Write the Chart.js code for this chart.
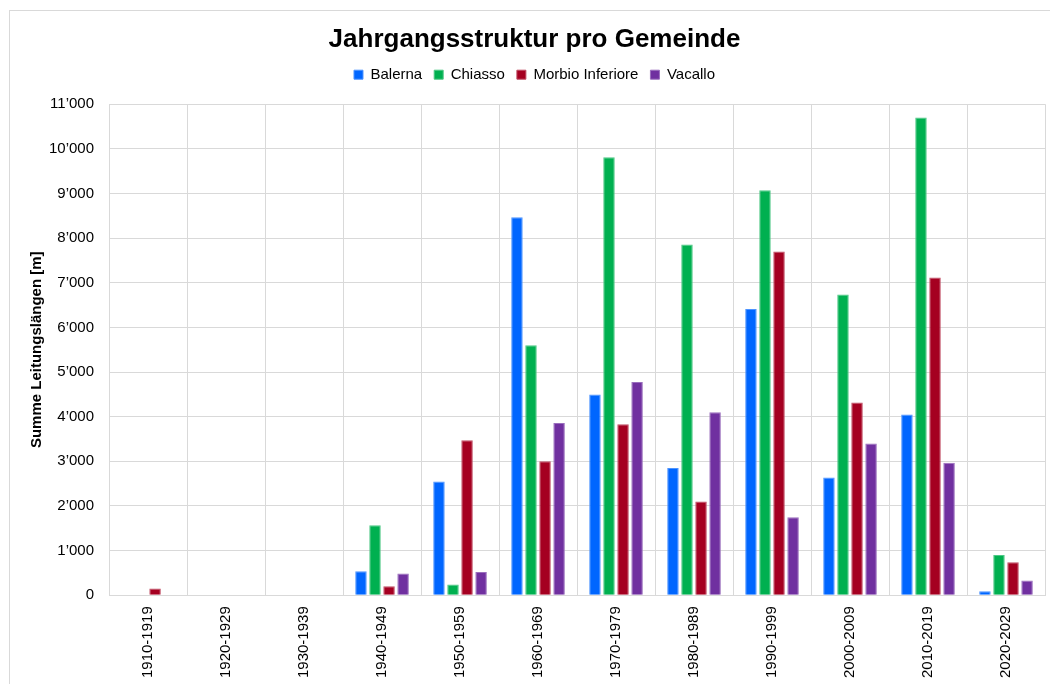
<!DOCTYPE html>
<html>
<head>
<meta charset="utf-8">
<script src="https://cdn.jsdelivr.net/npm/chart.js@4/dist/chart.umd.min.js"></script>
<style>
  html, body { margin: 0; padding: 0; background: #fff; }
  #frame {
    position: absolute; left: 9px; top: 10px; width: 1050px; height: 684px;
    border-left: 1px solid #d9d9d9; border-top: 1px solid #d9d9d9;
  }
  #wrap { position: absolute; left: 0; top: 0; width: 1050px; height: 684px; }
</style>
</head>
<body>
<div id="frame"></div>
<div id="wrap"><canvas id="c"></canvas></div>
<script>
// Jahrgangsstruktur – Summe Leitungslängen je Jahrzehnt
const DECADES = ['1910-1919', '1920-1929', '1930-1939', '1940-1949', '1950-1959', '1960-1969',
                 '1970-1979', '1980-1989', '1990-1999', '2000-2009', '2010-2019', '2020-2029'];

const BALERNA = [0, 0, 0, 540, 2550, 8470, 4500, 2850, 6410, 2640, 4050, 90];
const CHIASSO = [0, 0, 0, 1570, 240, 5600, 9810, 7860, 9070, 6740, 10700, 900];
const MORBIO  = [150, 0, 0, 200, 3470, 3000, 3830, 2100, 7700, 4320, 7120, 740];
const VACALLO = [0, 0, 0, 490, 520, 3860, 4780, 4100, 1750, 3400, 2970, 330];

const FONT = 'Liberation Sans, Arial, sans-serif';

function fmt(v) {
  // Schweizer Tausendertrennzeichen
  return String(v).replace(/\B(?=(\d{3})+(?!\d))/g, '\u2019');
}

function ds(label, data, color, edge) {
  return {
    label,
    data,
    backgroundColor: color,
    borderColor: edge,
    borderWidth: 1,
    barPercentage: 0.82,
    categoryPercentage: 0.72,
  };
}

// etwas mehr Abstand unter der Legende
const legendGap = {
  id: 'legendGap',
  beforeInit(chart) {
    const fit = chart.legend.fit;
    chart.legend.fit = function () {
      fit.call(this);
      this.height += 12;
    };
  },
};

new Chart(document.getElementById('c'), {
  type: 'bar',
  data: {
    labels: DECADES,
    datasets: [
      ds('Balerna', BALERNA, '#0066ff', '#4d94ff'),
      ds('Chiasso', CHIASSO, '#00b050', '#4dc885'),
      ds('Morbio Inferiore', MORBIO, '#a50021', '#c04d64'),
      ds('Vacallo', VACALLO, '#7030a0', '#9a6ebd'),
    ],
  },
  plugins: [legendGap],
  options: {
    responsive: true,
    maintainAspectRatio: false,
    animation: false,
    layout: { padding: { left: 24, right: 5, top: 12, bottom: -5 } },
    plugins: {
      title: {
        display: true,
        text: 'Jahrgangsstruktur pro Gemeinde',
        color: '#000',
        font: { family: FONT, size: 26, weight: 'bold' },
        padding: { top: 12, bottom: 0 },
      },
      legend: {
        position: 'top',
        labels: {
          color: '#000',
          font: { family: FONT, size: 15 },
          boxWidth: 9, boxHeight: 9,
          padding: 12,
        },
      },
      tooltip: { enabled: false },
    },
    scales: {
      x: {
        grid: { color: '#d9d9d9', drawTicks: false },
        border: { color: '#d9d9d9' },
        ticks: {
          color: '#000',
          font: { family: FONT, size: 15 },
          maxRotation: 90, minRotation: 90,
          padding: 11,
        },
      },
      y: {
        min: 0, max: 11000,
        grid: { color: '#d9d9d9', drawTicks: false },
        border: { display: false },
        ticks: {
          stepSize: 1000,
          color: '#000',
          font: { family: FONT, size: 15 },
          padding: 15,
          callback: (v) => fmt(v),
        },
        title: {
          display: true,
          text: 'Summe Leitungslängen [m]',
          color: '#000',
          font: { family: FONT, size: 15, weight: 'bold' },
          padding: { top: 4, bottom: -12 },
        },
      },
    },
  },
});
</script>
</body>
</html>
